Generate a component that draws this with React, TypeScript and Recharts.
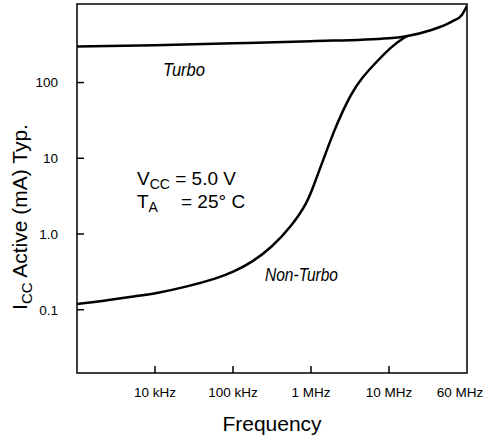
import React from 'react';
import { LineChart, Line, XAxis, YAxis, ReferenceArea } from 'recharts';

// frequency in Hz, current in mA
const TURBO_F = [1e3, 1e4, 1e5, 1e6, 1e7, 1.6e7, 3.5e7, 6.4e7, 8.6e7, 1e8];
const TURBO_I = [299, 312, 330, 352, 386, 407, 495, 638, 782, 1030];

const NON_TURBO_F = [1e3, 2e3, 5.3e3, 1e4, 2.6e4, 6.3e4, 1e5, 1.8e5, 3.1e5, 5.6e5, 9e5, 1.11e6, 1.49e6, 2e6, 2.5e6, 3.2e6, 4.4e6, 7.3e6, 1.08e7, 1.52e7, 1.7e7];
const NON_TURBO_I = [0.119, 0.129, 0.15, 0.163, 0.202, 0.261, 0.313, 0.431, 0.659, 1.26, 2.6, 4.7, 10.6, 23.8, 40, 68, 114, 199, 299, 385, 410];

const X_TICKS = [1e4, 1e5, 1e6, 1e7, 1e8];
const X_LABELS = ['10 kHz', '100 kHz', '1 MHz', '10 MHz', '60 MHz'];
const Y_TICKS = [0.1, 1, 10, 100];
const Y_LABELS = ['0.1', '1.0', '10', '100'];

const X_DOMAIN = [1e3, 1e8];
const Y_DOMAIN = [0.0146, 1090];

const turbo = TURBO_F.map((f, i) => ({ f, i: TURBO_I[i] }));
const nonTurbo = NON_TURBO_F.map((f, i) => ({ f, i: NON_TURBO_I[i] }));

const FONT = "'Liberation Sans', Arial, Helvetica, sans-serif";

function XTick({ x, y, payload }: any) {
  const v = payload.value;
  const idx = X_TICKS.indexOf(v);
  const last = v >= 1e8;
  return (
    <g>
      {!last && <line x1={x} x2={x} y1={y} y2={y - 7} stroke="#000" strokeWidth={1.5} />}
      <text x={last ? x - 7 : x} y={y + 24} textAnchor="middle" fontFamily={FONT} fontSize={13.5} fill="#000">
        {X_LABELS[idx]}
      </text>
    </g>
  );
}

function YTick({ x, y, payload }: any) {
  const idx = Y_TICKS.indexOf(payload.value);
  return (
    <g>
      <line x1={x} x2={x + 7} y1={y} y2={y} stroke="#000" strokeWidth={1.5} />
      <text x={x - 19} y={y} dy="0.36em" textAnchor="end" fontFamily={FONT} fontSize={13.5} fill="#000">
        {Y_LABELS[idx]}
      </text>
    </g>
  );
}

export default function App() {
  return (
    <div style={{ position: 'absolute', left: 0, top: 0, width: 488, height: 437, background: '#fff' }}>
      <LineChart width={488} height={437} margin={{ top: 4, right: 21, bottom: 0, left: 0 }}>
        <XAxis
          dataKey="f" type="number" scale="log" domain={X_DOMAIN} allowDataOverflow
          ticks={X_TICKS} interval={0} tick={<XTick />} tickLine={false} tickSize={0} tickMargin={0}
          axisLine={false} height={64}
          label={{ value: 'Frequency', position: 'insideBottom', offset: 6, fill: '#000', fontSize: 21, fontFamily: FONT }}
        />
        <YAxis
          dataKey="i" type="number" scale="log" domain={Y_DOMAIN} allowDataOverflow
          ticks={Y_TICKS} interval={0} tick={<YTick />} tickLine={false} tickSize={0} tickMargin={0}
          axisLine={false} width={77}
        />
        <ReferenceArea x1={X_DOMAIN[0]} x2={X_DOMAIN[1]} y1={Y_DOMAIN[0]} y2={Y_DOMAIN[1]} fill="none" stroke="#000" strokeWidth={1.5} fillOpacity={0} strokeOpacity={1} />
        <Line data={turbo} dataKey="i" type="monotone" stroke="#000" strokeWidth={2.5} dot={false} isAnimationActive={false} />
        <Line data={nonTurbo} dataKey="i" type="basis" stroke="#000" strokeWidth={2.5} dot={false} isAnimationActive={false} />
      </LineChart>
      <svg width={488} height={437} style={{ position: 'absolute', left: 0, top: 0, pointerEvents: 'none' }}>
        <text x={163} y={76} fontFamily={FONT} fontStyle="italic" fontSize={19} fill="#000" textLength={42} lengthAdjust="spacingAndGlyphs">Turbo</text>
        <text x={265} y={281} fontFamily={FONT} fontStyle="italic" fontSize={19} fill="#000" textLength={73} lengthAdjust="spacingAndGlyphs">Non-Turbo</text>
        <text x={137} y={185} fontFamily={FONT} fontSize={19} fill="#000">
          V<tspan fontSize={14} dy={4}>CC</tspan><tspan dy={-4}> = 5.0 V</tspan>
        </text>
        <text x={137} y={208} fontFamily={FONT} fontSize={19} fill="#000">
          T<tspan fontSize={14} dy={4}>A</tspan><tspan dy={-4} x={181}>= 25° C</tspan>
        </text>
        <text transform="translate(27 217) rotate(-90)" textAnchor="middle" fontFamily={FONT} fontSize={21} fill="#000">
          I<tspan fontSize={15} dy={5}>CC</tspan><tspan dy={-5}> Active (mA) Typ.</tspan>
        </text>
      </svg>
    </div>
  );
}
